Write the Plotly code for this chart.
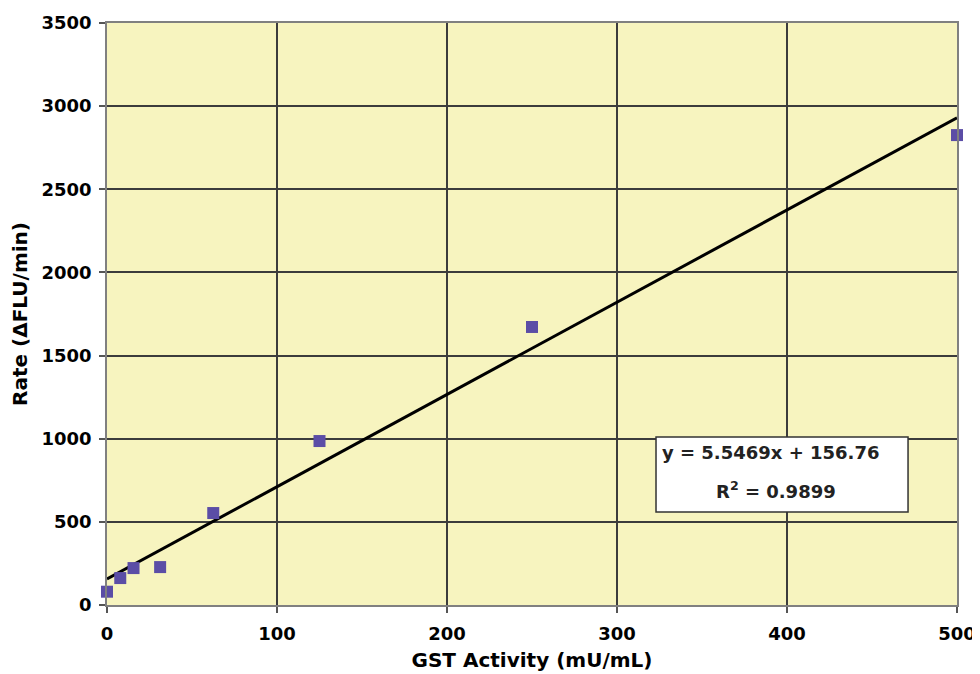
import plotly.graph_objects as go

# Data
gst_activity = [0, 7.8, 15.6, 31.25, 62.5, 125, 250, 500]
rate = [80, 162, 222, 228, 553, 986, 1672, 2826]
fit_slope = 5.5469
fit_intercept = 156.76
fit_r2 = 0.9899
fit_x = [0, 500]
fit_y = [fit_slope * x + fit_intercept for x in fit_x]
x_ticks = [0, 100, 200, 300, 400, 500]
y_ticks = [0, 500, 1000, 1500, 2000, 2500, 3000, 3500]

font_fam = "DejaVu Sans, Verdana, sans-serif"

fig = go.Figure()
fig.add_trace(go.Scatter(
    x=fit_x, y=fit_y, mode="lines",
    line=dict(color="black", width=3), showlegend=False, hoverinfo="skip"))
fig.add_trace(go.Scatter(
    x=gst_activity, y=rate, mode="markers",
    marker=dict(symbol="square", size=12, color="#5B4DA6"),
    showlegend=False, cliponaxis=False))

axis_common = dict(
    showgrid=True, gridcolor="#3c3c3c", gridwidth=1.6,
    showline=True, linecolor="#808080", linewidth=1.5, mirror=True,
    ticks="outside", ticklen=6, tickcolor="#555", tickwidth=1.5,
    zeroline=False, automargin=False,
    tickfont=dict(size=18, weight="bold", family=font_fam),
)

# the page body adds an 8px margin, so the figure is sized/offset to compensate
fig.update_layout(
    width=972, height=666,
    margin=dict(l=99, r=23, t=15, b=69),
    paper_bgcolor="white",
    plot_bgcolor="#F7F4BF",
    font=dict(family=font_fam, size=18, color="black", weight="bold"),
    xaxis=dict(
        range=[0, 500], tickvals=x_ticks, ticklabelstandoff=6,
        title=dict(text="GST Activity (mU/mL)", font=dict(size=20, weight="bold"), standoff=10),
        **axis_common,
    ),
    yaxis=dict(
        range=[0, 3500], tickvals=y_ticks, ticklabelstandoff=4,
        title=dict(text="Rate (ΔFLU/min)", font=dict(size=20, weight="bold"), standoff=12),
        **axis_common,
    ),
)

fig.add_shape(
    type="rect", xref="paper", yref="paper",
    x0=0.6459, x1=0.9424, y0=0.1598, y1=0.2887,
    fillcolor="white", line=dict(color="#333", width=1.5), layer="above",
)
fig.add_annotation(
    x=0.781, y=0.2612, xref="paper", yref="paper", xanchor="center", yanchor="middle",
    text=f"y = {fit_slope}x + {fit_intercept}",
    showarrow=False, font=dict(size=18, weight="bold", color="#222"),
)
fig.add_annotation(
    x=0.787, y=0.1976, xref="paper", yref="paper", xanchor="center", yanchor="middle",
    text=f"R<sup>2</sup> = {fit_r2}",
    showarrow=False, font=dict(size=18, weight="bold", color="#222"),
)

fig.write_html("out.html")
